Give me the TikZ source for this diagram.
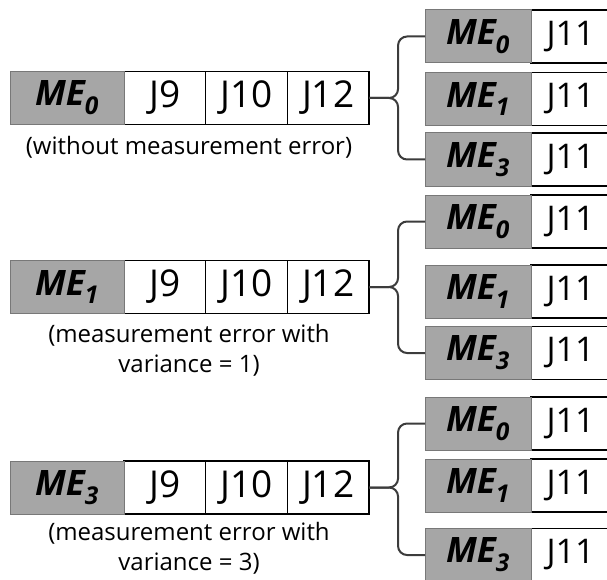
\documentclass[tikz,border=0pt]{standalone}
\usepackage{fontspec}
\setmainfont{Open Sans}
\definecolor{megray}{RGB}{166,166,166}
\definecolor{megrayline}{RGB}{120,120,120}
\definecolor{bracecol}{RGB}{60,60,60}
\newcommand{\MEsub}[1]{ME\textsubscript{#1}}
\begin{document}
\begin{tikzpicture}[x=1pt,y=-1pt,
  mebox/.style={draw=megrayline, fill=megray, line width=1pt, minimum height=53pt,
    inner sep=0pt, outer sep=0pt, font=\fontsize{35}{35}\selectfont\bfseries\itshape},
  lme/.style={mebox, minimum width=114pt},
  rme/.style={mebox, minimum width=106pt},
  cell/.style={draw=black, fill=white, line width=1.2pt, minimum height=53pt, minimum width=81.7pt,
    inner sep=0pt, outer sep=0pt, font=\fontsize{37}{37}\selectfont},
  jcell/.style={draw=black, fill=white, line width=1.2pt, minimum height=53pt, minimum width=84pt,
    inner sep=0pt, outer sep=0pt, font=\fontsize{34}{34}\selectfont},
  caption/.style={anchor=north, inner sep=0pt, align=center, font=\fontsize{24}{30}\selectfont},
  brace/.style={draw=bracecol, line width=2pt, rounded corners=9pt}
]
\useasboundingbox (0,0) rectangle (607,580);
\clip (0,0) rectangle (607,580);

% ---------- left strips ----------
\foreach \r/\y/\s in {1/98/0, 2/287/1, 3/487.5/3}{
  \node[cell] (s\r a) at (164.8,\y) {J9};
  \node[cell] (s\r b) at (246.5,\y) {J10};
  \node[cell] (s\r c) at (328.2,\y) {J12};
  \node[lme] (s\r m) at (67,\y) {\MEsub{\s}};
}

% ---------- captions ----------
\node[caption] (c1) at (189,136.5) {(without measurement error)};
\node[caption] (c2) at (189,324.5) {(measurement error with\\variance = 1)};
\node[caption] (c3) at (189,522.5) {(measurement error with\\variance = 3)};

% ---------- right boxes ----------
\foreach \g/\ya/\yb/\yc in {1/36.5/99/159.5, 2/221.5/291.5/353, 3/423.5/485.5/555}{
  \node[jcell] (j\g a) at (573,\ya) {J11\hspace*{5pt}};
  \node[jcell] (j\g b) at (573,\yb) {J11\hspace*{5pt}};
  \node[jcell] (j\g c) at (573,\yc) {J11\hspace*{5pt}};
  \node[rme] (r\g a) at (478,\ya) {\MEsub{0}};
  \node[rme] (r\g b) at (478,\yb) {\MEsub{1}};
  \node[rme] (r\g c) at (478,\yc) {\MEsub{3}};
}

% ---------- braces ----------
\foreach \g in {1,2,3}{
  \draw[brace] (s\g c.east) -- ++(29,0) |- (r\g a.west);
  \draw[brace] (s\g c.east) -- ++(29,0) |- (r\g c.west);
}
\end{tikzpicture}
\end{document}
